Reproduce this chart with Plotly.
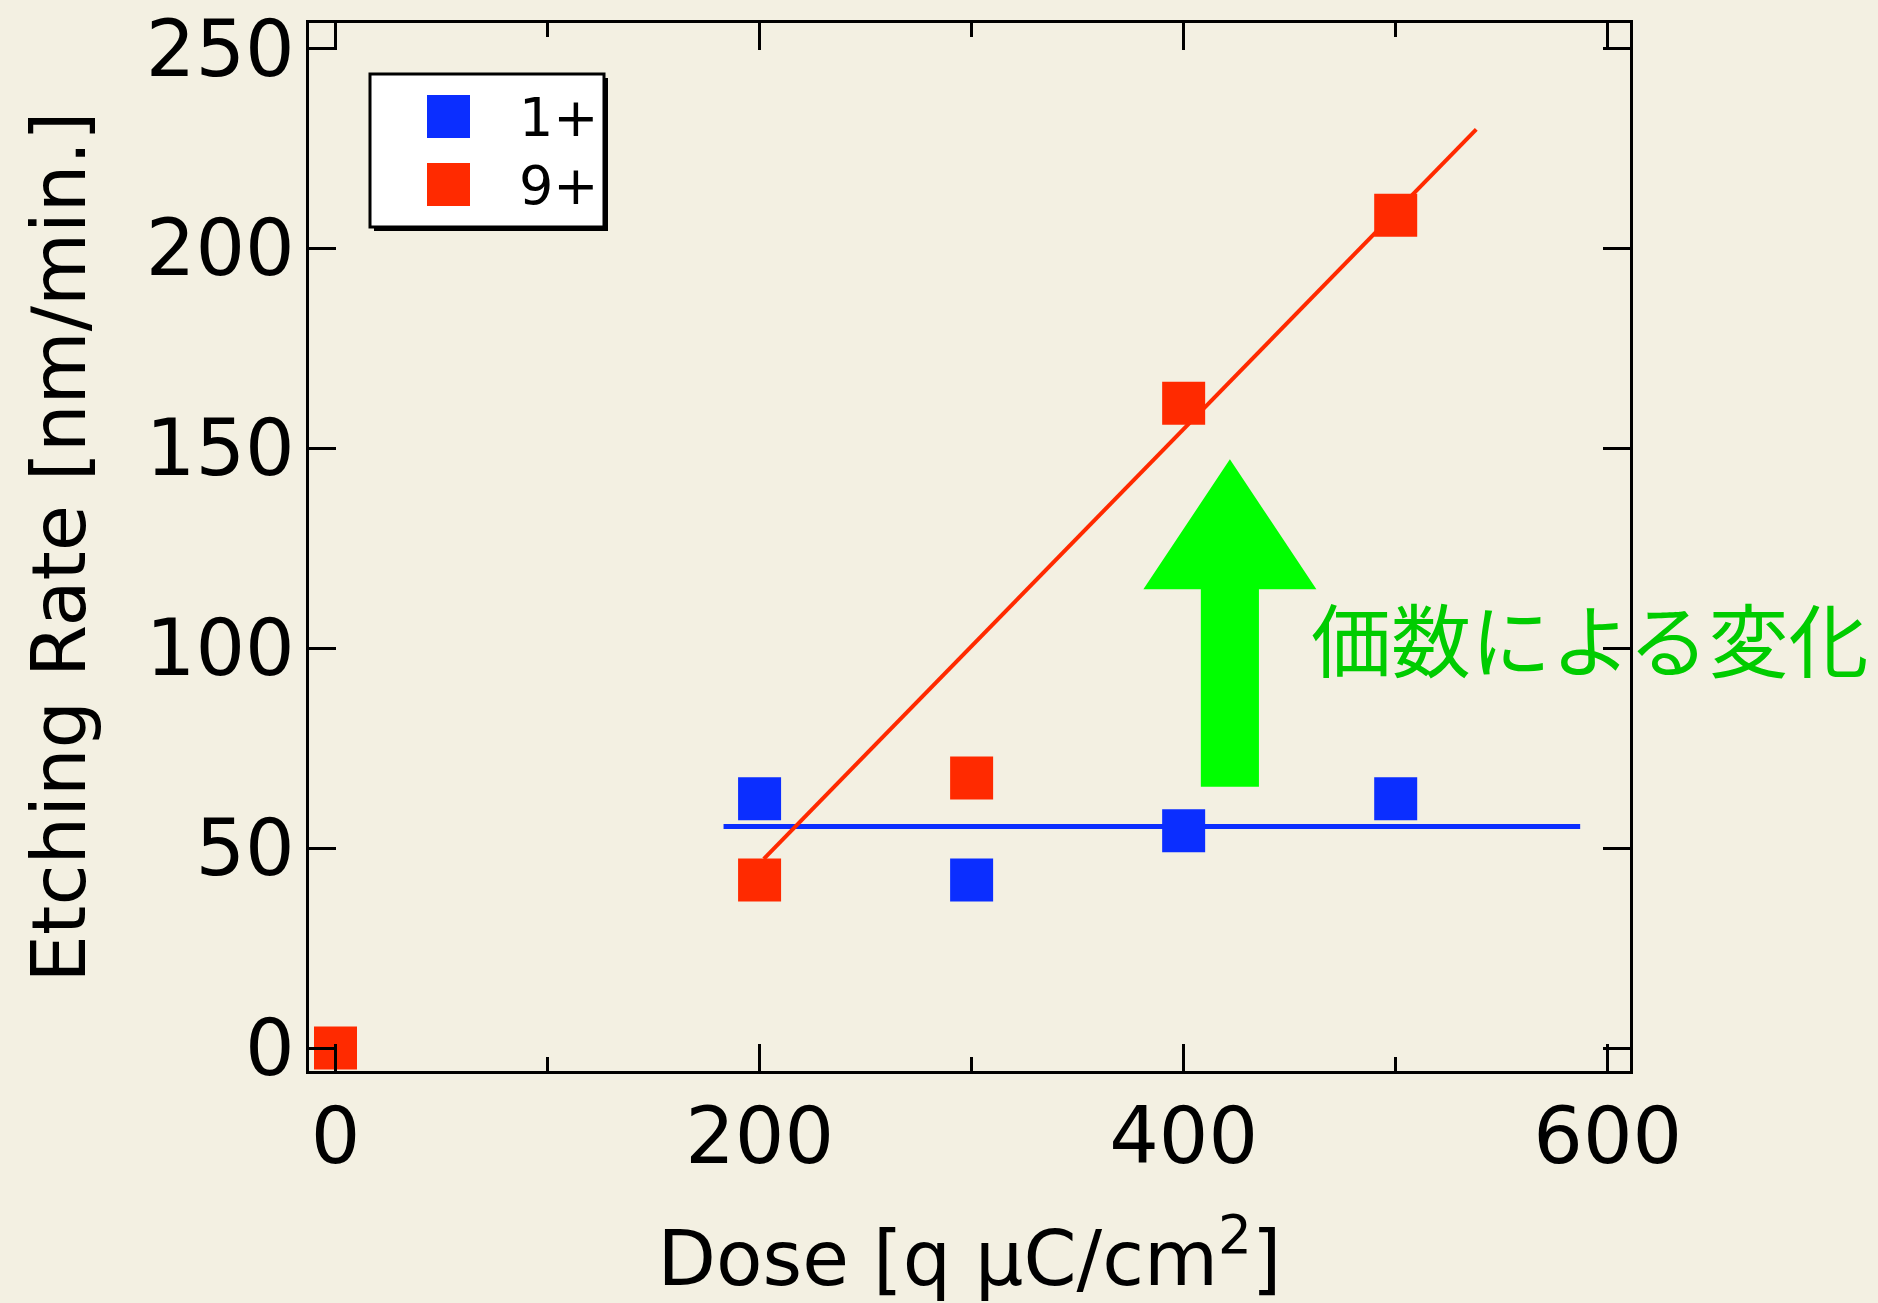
import plotly.graph_objects as go

# ---------------- data ----------------
series_names = ["1+", "9+"]
series_colors = ["#0B2EFF", "#FF2A00"]

dose_1 = [200, 300, 400, 500]
rate_1 = [62.3, 42.0, 54.3, 62.3]

dose_9 = [0, 200, 300, 400, 500]
rate_9 = [0.0, 42.0, 67.5, 161.2, 208.2]

fit_1_x = [183, 587]
fit_1_y = [55.4, 55.4]
fit_9_x = [202, 538]
fit_9_y = [47.3, 229.7]

x_tick_vals = [0, 200, 400, 600]
x_tick_text = ["0", "200", "400", "600"]
y_tick_vals = [0, 50, 100, 150, 200, 250]
y_tick_text = ["0", "50", "100", "150", "200", "250"]

x_title = "Dose [q μC/cm<sup>2</sup>]\u00a0"
y_title = "Etching Rate [nm/min.]"
note_text = "価数による変化"

# arrow geometry in data units
arrow_x = 421.8
arrow_y_base = 65.3
arrow_y_neck = 114.7
arrow_y_tip = 147.2
arrow_shaft_half = 13.7
arrow_head_half = 40.8

# ---------------- layout constants ----------------
W, H = 1878, 1303
L, R, T, B = 309, 1630, 23, 1071
BG = "#F3F0E2"
FONT = "DejaVu Sans, Lucida Grande, sans-serif"


def px_x(p):
    return (p - L) / (R - L)


def px_y(p):
    return (B - p) / (B - T)


fig = go.Figure()

fig.add_trace(go.Scatter(x=fit_1_x, y=fit_1_y, mode="lines",
                         line=dict(color=series_colors[0], width=5),
                         showlegend=False, hoverinfo="skip"))
fig.add_trace(go.Scatter(x=fit_9_x, y=fit_9_y, mode="lines",
                         line=dict(color=series_colors[1], width=4),
                         showlegend=False, hoverinfo="skip"))
fig.add_trace(go.Scatter(x=dose_1, y=rate_1, mode="markers", name=series_names[0],
                         marker=dict(symbol="square", size=43, color=series_colors[0],
                                     line=dict(width=0)),
                         cliponaxis=False, showlegend=False))
fig.add_trace(go.Scatter(x=dose_9, y=rate_9, mode="markers", name=series_names[1],
                         marker=dict(symbol="square", size=43, color=series_colors[1],
                                     line=dict(width=0)),
                         cliponaxis=False, showlegend=False))

axis_common = dict(
    showline=True, linecolor="black", linewidth=2.5, mirror="ticks",
    ticks="inside", ticklen=27, tickwidth=2.5, tickcolor="black",
    showgrid=False, zeroline=False,
    tickfont=dict(family=FONT, size=78, color="black"),
)

fig.update_xaxes(range=[-12.5, 610.5], tickvals=x_tick_vals, ticktext=x_tick_text,
                 minor=dict(dtick=100, tick0=0, ticks="inside", ticklen=14,
                            tickwidth=2.5, tickcolor="black", showgrid=False),
                 ticklabelstandoff=-4,
                 title=dict(text=x_title, font=dict(family=FONT, size=76, color="black"),
                            standoff=54),
                 **axis_common)
fig.update_yaxes(range=[-5.75, 256.3], tickvals=y_tick_vals, ticktext=y_tick_text,
                 ticklabelstandoff=-4,
                 title=dict(text=y_title, font=dict(family=FONT, size=75, color="black"),
                            standoff=36),
                 **axis_common)

shapes = []
# green arrow
ax = arrow_x
path = (f"M {ax - arrow_shaft_half} {arrow_y_base} "
        f"L {ax + arrow_shaft_half} {arrow_y_base} "
        f"L {ax + arrow_shaft_half} {arrow_y_neck} "
        f"L {ax + arrow_head_half} {arrow_y_neck} "
        f"L {ax} {arrow_y_tip} "
        f"L {ax - arrow_head_half} {arrow_y_neck} "
        f"L {ax - arrow_shaft_half} {arrow_y_neck} Z")
shapes.append(dict(type="path", xref="x", yref="y", path=path,
                   fillcolor="#00FF00", line=dict(width=0), layer="above"))

# custom legend box (shadow + white box)
shapes.append(dict(type="rect", xref="paper", yref="paper",
                   x0=px_x(374), x1=px_x(608), y0=px_y(231), y1=px_y(78),
                   fillcolor="black", line=dict(width=0), layer="above"))
shapes.append(dict(type="rect", xref="paper", yref="paper",
                   x0=px_x(370), x1=px_x(604), y0=px_y(227), y1=px_y(74),
                   fillcolor="white", line=dict(color="black", width=3), layer="above"))
annotations = []
for i, (name, col) in enumerate(zip(series_names, series_colors)):
    cy = 116.5 + 68 * i
    shapes.append(dict(type="rect", xref="paper", yref="paper",
                       x0=px_x(427), x1=px_x(470), y0=px_y(cy + 21.5), y1=px_y(cy - 21.5),
                       fillcolor=col, line=dict(width=0), layer="above"))
    annotations.append(dict(text=name, xref="paper", yref="paper",
                            x=px_x(601), y=px_y(cy + 1), xanchor="right", yanchor="middle",
                            showarrow=False,
                            font=dict(family=FONT, size=54, color="black")))

annotations.append(dict(text=note_text, xref="x", yref="y", x=459, y=103,
                        xanchor="left", yanchor="middle", showarrow=False,
                        font=dict(family="Noto Sans CJK JP, sans-serif", size=80,
                                  color="#00CC00")))

fig.update_layout(
    width=W, height=H,
    margin=dict(l=L, r=W - R, t=T, b=H - B, pad=0, autoexpand=False),
    paper_bgcolor=BG, plot_bgcolor=BG,
    shapes=shapes, annotations=annotations, showlegend=False,
)

fig.write_html("out.html")
